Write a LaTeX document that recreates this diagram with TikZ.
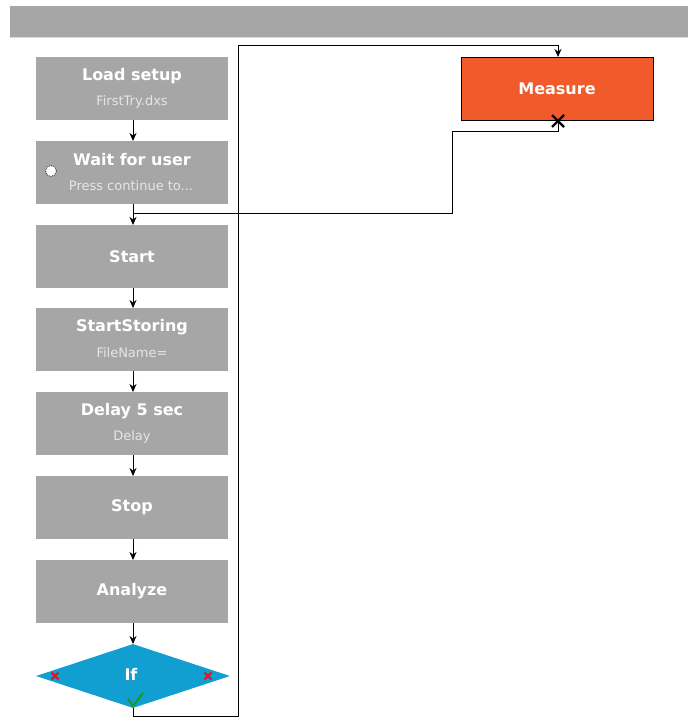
\documentclass[tikz,border=0pt]{standalone}
\usepackage{fontspec}
\setmainfont{DejaVu Sans}
\usetikzlibrary{shapes.geometric,arrows.meta}
\definecolor{boxgray}{HTML}{A6A6A6}
\definecolor{subgray}{HTML}{E6E6E6}
\definecolor{measureorange}{HTML}{F15A2B}
\definecolor{ifblue}{HTML}{109FD0}
\definecolor{redx}{HTML}{E8101A}
\definecolor{greencheck}{HTML}{1A9A20}
\begin{document}
\begin{tikzpicture}[x=1pt,y=-1pt,
  stepbox/.style={fill=boxgray,draw=none,minimum width=192pt,minimum height=63pt,inner sep=0pt},
  title/.style={font=\fontsize{16}{18}\selectfont\bfseries,text=white},
  sub/.style={font=\fontsize{13}{15}\selectfont,text=subgray},
  conn/.style={draw=black,line width=1pt,-{Stealth[length=8pt,width=7pt]}},
  plainconn/.style={draw=black,line width=1pt}]
\useasboundingbox (0,0) rectangle (688,718);
\fill[white] (0,0) rectangle (688,718);
% top bar
\fill[boxgray] (10,6) rectangle (688,37);
\draw[gray!30,line width=0.8pt] (10,37.5) -- (688,37.5);
% boxes
\node[stepbox] (load) at (132,88.5) {};
\node[title] (loadt) at (132,76) {Load setup};
\node[sub] (loads) at (132,102) {FirstTry.dxs};
\node[stepbox] (wait) at (132,172.5) {};
\node[title] (waitt) at (132,160) {Wait for user};
\node[sub] (waits) at (131,186) {Press continue to...};
\node[circle,draw=black!80,densely dotted,fill=white,minimum size=11pt,inner sep=0pt,line width=0.9pt] (waitc) at (51,171) {};
\node[stepbox] (start) at (132,256.5) {};
\node[title] at (132,256.5) {Start};
\node[stepbox] (store) at (132,339.5) {};
\node[title] at (132,327) {StartStoring};
\node[sub] at (132,353) {FileName=};
\node[stepbox] (delay) at (132,423.5) {};
\node[title] at (132,411) {Delay 5 sec};
\node[sub] at (132,437) {Delay};
\node[stepbox] (stop) at (132,507.5) {};
\node[title] at (132,507.5) {Stop};
\node[stepbox] (analyze) at (132,591.5) {};
\node[title] at (132,591.5) {Analyze};
\node[diamond,fill=ifblue,minimum width=194pt,minimum height=64pt,inner sep=0pt,aspect=3] (if) at (133,676) {};
\node[title] at (131,674) {If};
% measure
\node[fill=measureorange,draw=black,line width=1pt,minimum width=192pt,minimum height=63pt,inner sep=0pt] (measure) at (557,88.5) {};
\node[title] at (557,89) {Measure};
% markers on diamond
\draw[redx,line width=1.8pt] (51.5,672.5) -- (58.5,679.5) (51.5,679.5) -- (58.5,672.5);
\draw[redx,line width=1.8pt] (204.5,672.5) -- (211.5,679.5) (204.5,679.5) -- (211.5,672.5);
\draw[greencheck,line width=2pt] (128,699) -- (133,706) -- (143,693);
% connectors
\draw[conn] (133,120) -- (133,141);
\draw[plainconn] (133,204) -- (133,213);
\draw[conn] (133,213) -- (133,225);
\draw[conn] (133,288) -- (133,308);
\draw[conn] (133,371) -- (133,392);
\draw[conn] (133,455) -- (133,476);
\draw[conn] (133,539) -- (133,560);
\draw[conn] (133,623) -- (133,644);
% loop to measure
\coordinate (loopa) at (133,716);
\coordinate (loopb) at (238,716);
\coordinate (loopc) at (238,45);
\coordinate (loopd) at (558,45);
\draw[conn] (133,708) -- (loopa) -- (loopb) -- (loopc) -- (loopd) -- (558,57);
% measure back to start
\coordinate (backa) at (558,131);
\coordinate (backb) at (452,131);
\coordinate (backc) at (452,213);
\coordinate (backd) at (133,213);
\draw[plainconn] (558,120) -- (backa) -- (backb) -- (backc) -- (backd);
\draw[black,line width=2.2pt] (552,115) -- (564,127) (552,127) -- (564,115);
\end{tikzpicture}
\end{document}
